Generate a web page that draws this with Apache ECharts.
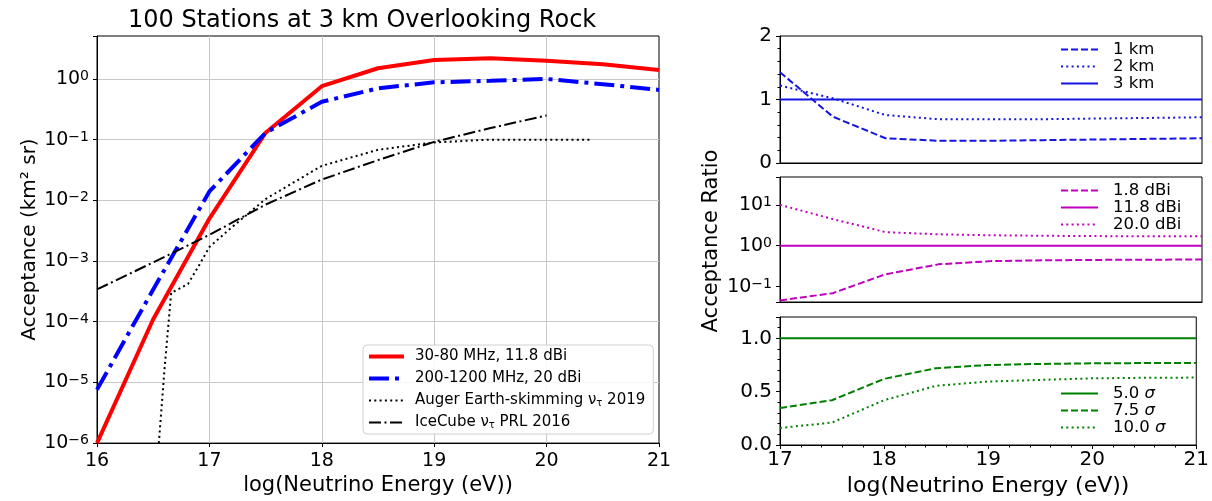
<!DOCTYPE html>
<html>
<head>
<meta charset="utf-8">
<title>Acceptance</title>
<script src="https://cdn.jsdelivr.net/npm/echarts@6/dist/echarts.min.js"></script>
<style>
  html, body { margin: 0; padding: 0; background: #fff; }
  #chart { width: 1212px; height: 501px; }
</style>
</head>
<body>
<div id="chart"></div>
<script>
// left panel: acceptance vs energy (log10 eV)
const accEnergy = [16, 16.5, 17, 17.5, 18, 18.5, 19, 19.5, 20, 20.5, 21]
const acc30to80 = [1e-6, 1.1e-4, 5e-3, 0.13, 0.76, 1.5, 2.05, 2.2, 2.0, 1.75, 1.4]
const acc200to1200 = [7.6e-6, 3.4e-4, 0.014, 0.13, 0.42, 0.7, 0.88, 0.93, 1.0, 0.82, 0.66]
const augerEnergy = [16.55, 16.6, 16.66, 16.72, 16.81, 16.9, 17, 17.2, 17.5, 18, 18.5, 19, 19.5, 20, 20.4]
const augerAcc = [1e-6, 1.6e-5, 3.0e-4, 3.4e-4, 4.2e-4, 8e-4, 1.7e-3, 3.6e-3, 1.05e-2, 3.7e-2, 6.8e-2, 9e-2, 0.1, 0.1, 0.1]
const icecubeEnergy = [16, 16.5, 17, 17.5, 18, 18.5, 19, 19.5, 20]
const icecubeAcc = [3.4e-4, 9.5e-4, 2.7e-3, 8.5e-3, 2.2e-2, 4.6e-2, 9.2e-2, 0.155, 0.25]

// right panels: ratios
const ratioEnergy = [17, 17.5, 18, 18.5, 19, 19.5, 20, 20.5, 21]
const ratio1km = [1.43, 0.73, 0.39, 0.35, 0.35, 0.36, 0.37, 0.38, 0.39]
const ratio2km = [1.22, 1.02, 0.755, 0.69, 0.69, 0.69, 0.70, 0.71, 0.72]
const ratio3km = [1, 1, 1, 1, 1, 1, 1, 1, 1]
const gain18 = [0.046, 0.069, 0.2, 0.35, 0.42, 0.44, 0.45, 0.455, 0.46]
const gain118 = [1, 1, 1, 1, 1, 1, 1, 1, 1]
const gain200 = [10, 4.5, 2.15, 1.9, 1.8, 1.75, 1.72, 1.7, 1.7]
const sigma50 = [1, 1, 1, 1, 1, 1, 1, 1, 1]
const sigma75 = [0.346, 0.42, 0.62, 0.72, 0.75, 0.76, 0.766, 0.768, 0.77]
const sigma100 = [0.16, 0.21, 0.42, 0.555, 0.595, 0.61, 0.625, 0.63, 0.632]

const FONT = 'DejaVu Sans'
const DASHDOT = [20, 6, 4, 6]
const DASHDOT_THIN = [12, 3.5, 2, 3.5]
const DOTTED = [2, 3.3]
const DASHED = [7, 3]

const zip = (xs, ys) => xs.map((x, i) => [x, ys[i]])

// 10^n labels with a raised exponent
function powLabel(v) {
  const p = Math.log10(v)
  const r = Math.round(p)
  if (Math.abs(p - r) > 1e-6) return ''
  return '{b|10}{sup|' + (r < 0 ? '\u2212' + (-r) : r) + '}'
}
function powRich(size) {
  return {
    b: { fontSize: size, fontFamily: FONT, color: '#000' },
    sup: { fontSize: Math.round(size * 0.72), fontFamily: FONT, color: '#000', verticalAlign: 'top' }
  }
}

function line(name, x, y, ax, color, width, type) {
  return {
    name, type: 'line', xAxisIndex: ax, yAxisIndex: ax,
    data: zip(x, y), symbol: 'none', showSymbol: false, animation: false,
    lineStyle: { color, width, type },
    itemStyle: { color }
  }
}

const chart = echarts.init(document.getElementById('chart'))

const tickStyle = { show: true, length: 4, lineStyle: { color: '#000', width: 1 } }
const lineStyleBlack = { show: true, lineStyle: { color: '#000', width: 1 } }
const noSymbol = { opacity: 0 }
const legendLine = { width: 'inherit' }

chart.setOption({
  animation: false,
  textStyle: { fontFamily: FONT },
  grid: [
    { left: 97, top: 36, width: 562, height: 411, show: true, borderColor: '#000', borderWidth: 1 },
    { left: 780, top: 36, width: 422, height: 127, show: true, borderColor: '#000', borderWidth: 1 },
    { left: 780, top: 177, width: 422, height: 125, show: true, borderColor: '#000', borderWidth: 1 },
    { left: 780, top: 317, width: 422, height: 128, show: true, borderColor: '#000', borderWidth: 1 }
  ],
  xAxis: [
    {
      gridIndex: 0, type: 'value', min: 16, max: 21, interval: 1,
      axisLine: lineStyleBlack, axisTick: tickStyle,
      axisLabel: { fontSize: 19, color: '#000', margin: 8 },
      splitLine: { show: true, showMinLine: false, showMaxLine: false, lineStyle: { color: '#c8c8c8', width: 1 } },
      name: 'log(Neutrino Energy (eV))', nameLocation: 'middle', nameGap: 31,
      nameTextStyle: { fontSize: 21, color: '#000' }
    },
    {
      gridIndex: 1, type: 'value', min: 17, max: 21, interval: 1,
      axisLine: lineStyleBlack, axisTick: { show: false }, axisLabel: { show: false }, splitLine: { show: false }
    },
    {
      gridIndex: 2, type: 'value', min: 17, max: 21, interval: 1,
      axisLine: lineStyleBlack, axisTick: { show: false }, axisLabel: { show: false }, splitLine: { show: false }
    },
    {
      gridIndex: 3, type: 'value', min: 17, max: 21, interval: 1,
      axisLine: lineStyleBlack, axisTick: tickStyle,
      minorTick: { show: true, splitNumber: 5, length: 2.5, lineStyle: { color: '#000' } },
      axisLabel: { fontSize: 20, color: '#000', margin: 5 },
      splitLine: { show: false },
      name: 'log(Neutrino Energy (eV))', nameLocation: 'middle', nameGap: 30,
      nameTextStyle: { fontSize: 22, color: '#000' }
    }
  ],
  yAxis: [
    {
      gridIndex: 0, type: 'log', logBase: 10, min: 1e-6, max: 5.1,
      axisLine: lineStyleBlack, axisTick: tickStyle,
      axisLabel: { formatter: powLabel, rich: powRich(19), margin: 8 },
      splitLine: { show: true, showMinLine: false, showMaxLine: false, lineStyle: { color: '#c8c8c8', width: 1 } },
      name: 'Acceptance (km\u00b2 sr)', nameLocation: 'middle', nameGap: 57,
      nameTextStyle: { fontSize: 20, color: '#000' }
    },
    {
      gridIndex: 1, type: 'value', min: 0, max: 2, interval: 1,
      axisLine: lineStyleBlack, axisTick: tickStyle,
      minorTick: { show: true, splitNumber: 5, length: 2.5, lineStyle: { color: '#000' } },
      axisLabel: { fontSize: 20, color: '#000', margin: 8 },
      splitLine: { show: false }
    },
    {
      gridIndex: 2, type: 'log', logBase: 10, min: 0.042, max: 48,
      axisLine: lineStyleBlack, axisTick: tickStyle,
      axisLabel: { formatter: powLabel, rich: powRich(19), margin: 8 },
      splitLine: { show: false }
    },
    {
      gridIndex: 3, type: 'value', min: 0, max: 1.2, interval: 0.5,
      axisLine: lineStyleBlack, axisTick: tickStyle,
      minorTick: { show: true, splitNumber: 5, length: 2.5, lineStyle: { color: '#000' } },
      axisLabel: {
        fontSize: 20, color: '#000', margin: 8,
        formatter: v => (Math.abs(v * 2 - Math.round(v * 2)) < 1e-6 ? v.toFixed(1) : '')
      },
      splitLine: { show: false }
    }
  ],
  legend: [
    {
      left: 363, top: 345, orient: 'vertical', selectedMode: false,
      backgroundColor: 'rgba(255,255,255,0.85)', borderColor: '#d0d0d0', borderWidth: 1, borderRadius: 4,
      padding: [4, 8, 4, 4], itemGap: 7, itemWidth: 35, itemHeight: 16,
      itemStyle: noSymbol, lineStyle: legendLine,
      textStyle: {
        fontSize: 15, color: '#000', padding: [0, 0, 0, 6],
        rich: { sub: { fontSize: 10, color: '#000', verticalAlign: 'bottom' } }
      },
      formatter: name => name.replace('\u03bd\u03c4', '\u03bd{sub|\u03c4}'),
      data: ['30-80 MHz, 11.8 dBi', '200-1200 MHz, 20 dBi', 'Auger Earth-skimming \u03bd\u03c4 2019', 'IceCube \u03bd\u03c4 PRL 2016']
    },
    {
      left: 1060, top: 41, orient: 'vertical', selectedMode: false, padding: 0,
      itemGap: 0, itemWidth: 37, itemHeight: 17, itemStyle: noSymbol, lineStyle: legendLine,
      textStyle: { fontSize: 16.5, color: '#000', padding: [0, 0, 0, 10] },
      data: ['1 km', '2 km', '3 km']
    },
    {
      left: 1060, top: 182, orient: 'vertical', selectedMode: false, padding: 0,
      itemGap: 0, itemWidth: 37, itemHeight: 17, itemStyle: noSymbol, lineStyle: legendLine,
      textStyle: { fontSize: 16.5, color: '#000', padding: [0, 0, 0, 10] },
      data: ['1.8 dBi', '11.8 dBi', '20.0 dBi']
    },
    {
      left: 1060, top: 385, orient: 'vertical', selectedMode: false, padding: 0,
      itemGap: 0, itemWidth: 37, itemHeight: 17, itemStyle: noSymbol, lineStyle: legendLine,
      textStyle: {
        fontSize: 16.5, color: '#000', padding: [0, 0, 0, 10],
        rich: { i: { fontSize: 16.5, color: '#000', fontStyle: 'italic' } }
      },
      formatter: name => name.replace('\u03c3', '{i|\u03c3}'),
      data: ['5.0 \u03c3', '7.5 \u03c3', '10.0 \u03c3']
    }
  ],
  graphic: [
    {
      type: 'text', left: 378 - 250, top: 9,
      style: { text: '100 Stations at 3 km Overlooking Rock', fontSize: 24, fontFamily: FONT, fill: '#000', width: 500, align: 'center' }
    },
    {
      type: 'text', x: 712, y: 241, rotation: Math.PI / 2,
      style: { text: 'Acceptance Ratio', fontSize: 21, fontFamily: FONT, fill: '#000', align: 'center', verticalAlign: 'middle' }
    }
  ],
  series: [
    line('30-80 MHz, 11.8 dBi', accEnergy, acc30to80, 0, '#ff0000', 4, 'solid'),
    line('200-1200 MHz, 20 dBi', accEnergy, acc200to1200, 0, '#0000ff', 4, DASHDOT),
    line('Auger Earth-skimming \u03bd\u03c4 2019', augerEnergy, augerAcc, 0, '#000', 2, DOTTED),
    line('IceCube \u03bd\u03c4 PRL 2016', icecubeEnergy, icecubeAcc, 0, '#000', 2, DASHDOT_THIN),

    line('1 km', ratioEnergy, ratio1km, 1, '#1515e0', 2, DASHED),
    line('2 km', ratioEnergy, ratio2km, 1, '#1515e0', 2, DOTTED),
    line('3 km', ratioEnergy, ratio3km, 1, '#1515e0', 2, 'solid'),

    line('1.8 dBi', ratioEnergy, gain18, 2, '#bf00bf', 2, DASHED),
    line('11.8 dBi', ratioEnergy, gain118, 2, '#bf00bf', 2, 'solid'),
    line('20.0 dBi', ratioEnergy, gain200, 2, '#bf00bf', 2, DOTTED),

    line('5.0 \u03c3', ratioEnergy, sigma50, 3, '#008000', 2, 'solid'),
    line('7.5 \u03c3', ratioEnergy, sigma75, 3, '#008000', 2, DASHED),
    line('10.0 \u03c3', ratioEnergy, sigma100, 3, '#008000', 2, DOTTED)
  ]
})
</script>
</body>
</html>
